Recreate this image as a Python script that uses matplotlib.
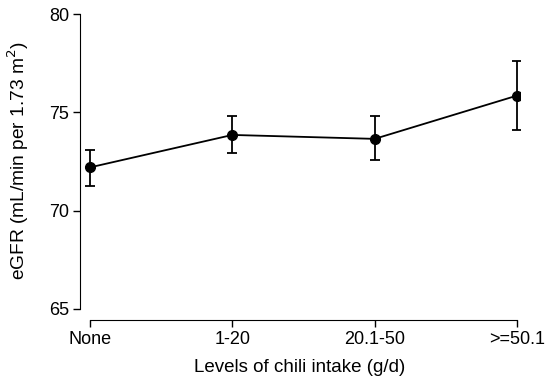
from matplotlib import pyplot as plt

plt.rcParams['font.family'] = ['Liberation Sans', 'DejaVu Sans']

levels = ['None', '1-20', '20.1-50', '>=50.1']
egfr = [72.2, 73.85, 73.65, 75.85]
lower = [71.25, 72.95, 72.6, 74.1]
upper = [73.1, 74.8, 74.8, 77.6]

xpos = list(range(len(levels)))
errLow = [m - l for m, l in zip(egfr, lower)]
errHigh = [u - m for m, u in zip(egfr, upper)]

fig = plt.figure(figsize=(5.5, 3.84), dpi=100)
ax = fig.add_axes([80/550, (384-320)/384, 440/550, 306/384])

ax.errorbar(xpos, egfr, yerr=[errLow, errHigh], color='black', lw=1.3,
            marker='o', markersize=7, capsize=3.5, capthick=1.3, elinewidth=1.3)

ax.set_xlim(-10/142.33, 3 + 3/142.33)
ax.set_ylim(65 - 11/19.6, 80)
ax.set_yticks([65, 70, 75, 80])
ax.set_xticks(xpos)
ax.set_xticklabels(levels)

ax.spines['top'].set_visible(False)
ax.spines['right'].set_visible(False)
ax.spines['left'].set_bounds(65, 80)
ax.spines['bottom'].set_bounds(0, 3)
ax.tick_params(direction='out', length=5, width=1, labelsize=13, pad=3)

ax.set_xlabel('Levels of chili intake (g/d)', fontsize=13.5, labelpad=8)
ax.set_ylabel('eGFR (mL/min per 1.73 m$^2$)', fontsize=13.8)
ax.yaxis.set_label_coords((31 - 80) / 440, (320 - 161) / 306)

fig.savefig('out.png', dpi=100)
